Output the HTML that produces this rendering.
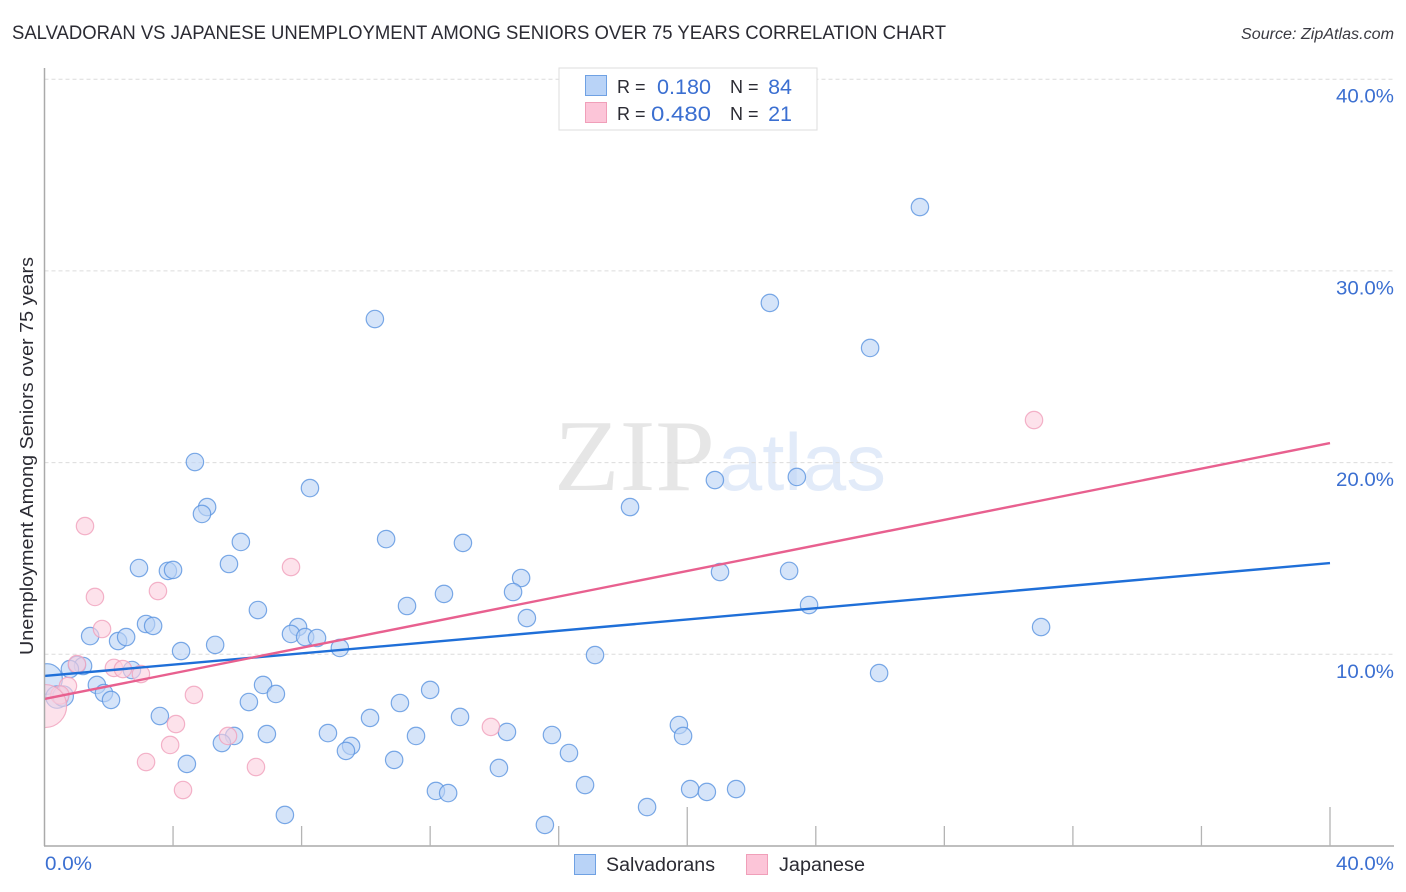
<!DOCTYPE html>
<html lang="en">
<head>
<meta charset="utf-8">
<title>Salvadoran vs Japanese Unemployment Correlation Chart</title>
<style>
html,body{margin:0;padding:0;background:#fff;width:1406px;height:892px;overflow:hidden}
svg{display:block;font-family:"Liberation Sans",sans-serif}
</style>
</head>
<body>
<svg id="chart" xmlns="http://www.w3.org/2000/svg" width="1406" height="892" viewBox="0 0 1406 892">
  <defs>
    <clipPath id="plot-clip"><rect x="44.5" y="60" width="1350" height="786"></rect></clipPath>
  </defs>
  <text x="12" y="39" font-size="19" fill="#2b2b33" textLength="934" lengthAdjust="spacingAndGlyphs">SALVADORAN VS JAPANESE UNEMPLOYMENT AMONG SENIORS OVER 75 YEARS CORRELATION CHART</text>
  <text x="1394" y="39" font-size="15.5" font-style="italic" fill="#3a3a42" text-anchor="end" textLength="153" lengthAdjust="spacingAndGlyphs">Source: ZipAtlas.com</text>

  <g>
    <text x="554" y="490" font-family="'Liberation Serif',serif" font-size="102" fill="#e6e6e6" textLength="161" lengthAdjust="spacingAndGlyphs">ZIP</text>
    <text x="718" y="490" font-family="'Liberation Sans',sans-serif" font-size="81" fill="#e2ebf9" textLength="168" lengthAdjust="spacingAndGlyphs">atlas</text>
  </g>

  <g id="grid"></g>
  <g id="pointsBlue" clip-path="url(#plot-clip)"></g>
  <g id="pointsPink" clip-path="url(#plot-clip)"></g>
  <g id="trends"></g>

  <g id="axes">
    <line x1="44.5" y1="68" x2="44.5" y2="846" stroke="#aaaaaa" stroke-width="1.5"></line>
    <line x1="44" y1="846" x2="1394" y2="846" stroke="#aaaaaa" stroke-width="1.5"></line>
  </g>
  <g id="xTicks"></g>
  <g id="yLabels"></g>
  <text x="45" y="870" font-size="19.5" fill="#3b6fd1" textLength="47" lengthAdjust="spacingAndGlyphs">0.0%</text>
  <text x="1394" y="870" font-size="19.5" fill="#3b6fd1" text-anchor="end" textLength="58" lengthAdjust="spacingAndGlyphs">40.0%</text>
  <text transform="translate(33,655) rotate(-90)" x="0" y="0" font-size="18.5" fill="#2b2b33" textLength="398" lengthAdjust="spacingAndGlyphs">Unemployment Among Seniors over 75 years</text>

  <g>
    <rect x="559" y="68" width="258" height="62" fill="#ffffff" stroke="#dddddd" stroke-width="1"></rect>
    <rect x="585.5" y="75.5" width="21" height="20" fill="#b9d3f7" stroke="#6fa1e3" stroke-width="1"></rect>
    <rect x="585.5" y="102.5" width="21" height="20" fill="#fcc5d8" stroke="#f09fb9" stroke-width="1"></rect>
    <text x="617" y="93" font-size="18" fill="#2b2b33">R =</text>
    <text x="711" y="94" font-size="21.5" fill="#3b6fd1" text-anchor="end" textLength="54" lengthAdjust="spacingAndGlyphs">0.180</text>
    <text x="730" y="93" font-size="18" fill="#2b2b33">N =</text>
    <text x="792" y="94" font-size="21.5" fill="#3b6fd1" text-anchor="end">84</text>
    <text x="617" y="120" font-size="18" fill="#2b2b33">R =</text>
    <text x="711" y="121" font-size="21.5" fill="#3b6fd1" text-anchor="end" textLength="60" lengthAdjust="spacingAndGlyphs">0.480</text>
    <text x="730" y="120" font-size="18" fill="#2b2b33">N =</text>
    <text x="792" y="121" font-size="21.5" fill="#3b6fd1" text-anchor="end">21</text>
  </g>

  <g>
    <rect x="574.5" y="854.5" width="21" height="20" fill="#b9d3f7" stroke="#6fa1e3" stroke-width="1"></rect>
    <text x="606" y="871" font-size="19" fill="#2b2b33" textLength="109" lengthAdjust="spacingAndGlyphs">Salvadorans</text>
    <rect x="746.5" y="854.5" width="21" height="20" fill="#fcc5d8" stroke="#f09fb9" stroke-width="1"></rect>
    <text x="779" y="871" font-size="19" fill="#2b2b33" textLength="86" lengthAdjust="spacingAndGlyphs">Japanese</text>
  </g>
</svg>
<script>
const salvadoranX = [27.24,22.57,25.69,10.28,4.68,8.26,5.06,4.90,20.86,23.41,18.22,6.11,10.63,13.02,2.94,3.84,4.00,5.74,21.02,23.17,14.83,14.58,12.43,11.28,6.64,23.79,15.01,3.16,3.38,7.89,7.67,8.11,8.48,31.01,1.42,2.29,2.54,5.31,4.25,9.19,17.13,25.97,1.01,1.20,0.79,2.72,0.08,1.63,1.85,2.07,6.80,7.20,6.36,12.00,11.06,3.59,10.13,12.93,19.74,19.87,8.82,6.92,5.90,5.52,11.56,14.39,15.79,9.54,9.38,16.32,10.88,4.43,14.14,16.82,12.18,12.56,20.09,20.61,21.52,18.75,7.48,15.57,0.39,0.58];
const salvadoranY = [33.33,28.33,25.98,27.49,20.03,18.67,17.68,17.32,19.09,19.25,17.68,15.86,16.01,15.81,14.50,14.35,14.40,14.71,14.29,14.35,13.98,13.25,13.15,12.52,12.31,12.57,11.89,11.58,11.48,11.42,11.06,10.90,10.85,11.42,10.95,10.69,10.90,10.49,10.17,10.33,9.96,9.02,9.44,9.39,9.23,9.18,8.71,8.40,7.98,7.62,8.40,7.93,7.51,8.14,7.46,6.78,6.68,6.73,6.31,5.74,5.89,5.84,5.74,5.37,5.74,5.95,5.79,5.22,4.96,4.85,4.49,4.28,4.07,3.18,2.87,2.76,2.97,2.82,2.97,2.03,1.62,1.10,7.77,7.82];
const salvadoranWeight = [1,1,1,1,1,1,1,1,1,1,1,1,1,1,1,1,1,1,1,1,1,1,1,1,1,1,1,1,1,1,1,1,1,1,1,1,1,1,1,1,1,1,1,1,1,1,3.1,1,1,1,1,1,1,1,1,1,1,1,1,1,1,1,1,1,1,1,1,1,1,1,1,1,1,1,1,1,1,1,1,1,1,1,1.67,1.4];
const japaneseX = [30.79,1.26,7.67,3.53,1.57,1.79,1.01,2.16,2.44,3.00,0.73,4.65,4.09,13.89,5.71,3.91,3.16,6.58,4.31,0.48,0.02];
const japaneseY = [22.22,16.69,14.55,13.30,12.99,11.32,9.49,9.29,9.23,8.97,8.35,7.88,6.36,6.21,5.74,5.27,4.38,4.12,2.92,7.88,7.30];
const japaneseWeight = [1,1,1,1,1,1,1,1,1,1,1,1,1,1,1,1,1,1,1,1.1,6.1];
const trendX = [0,40];
const salvadoranTrend = [8.87,14.76];
const japaneseTrend = [7.67,21.02];
const yTickValues = [10,20,30,40];
const yTickLabels = ["10.0%","20.0%","30.0%","40.0%"];
const xTickValues = [0,4,8,12,16,20,24,28,32,36,40];
const xMajorTicks = [20,40];

const NS = 'http://www.w3.org/2000/svg';
function xScale(v){ return 44.5 + v * (1285.5 / 40); }
function yScale(v){ return 846 - v * (766.8 / 40); }
function bubbleRadius(w){ return 8.7 * Math.sqrt(w); }

const gridGroup = document.getElementById('grid');
const labelGroup = document.getElementById('yLabels');
yTickValues.forEach(function(v, i){
  const gl = document.createElementNS(NS, 'line');
  
  
  gl.setAttribute('x1', 44.5);
  gl.setAttribute('x2', 1394);
  gl.setAttribute('y1', yScale(v));
  gl.setAttribute('y2', yScale(v));
  gl.setAttribute('stroke', '#dcdcdc');
  gl.setAttribute('stroke-width', '1');
  gl.setAttribute('stroke-dasharray', '4 3');
  gridGroup.appendChild(gl);
  const t = document.createElementNS(NS, 'text');
  
  
  t.setAttribute('x', 1394);
  t.setAttribute('y', yScale(v) + 23.5);
  t.setAttribute('text-anchor', 'end');
  t.setAttribute('font-size', '19.5');
  t.setAttribute('fill', '#3b6fd1');
  t.setAttribute('textLength', '58');
  t.setAttribute('lengthAdjust', 'spacingAndGlyphs');
  t.textContent = yTickLabels[i];
  labelGroup.appendChild(t);
});

const tickGroup = document.getElementById('xTicks');
xTickValues.forEach(function(v){
  if (v === 0) return;
  const tk = document.createElementNS(NS, 'line');
  
  
  tk.setAttribute('x1', xScale(v));
  tk.setAttribute('x2', xScale(v));
  tk.setAttribute('y1', xMajorTicks.indexOf(v) >= 0 ? 807 : 826);
  tk.setAttribute('y2', 846);
  tk.setAttribute('stroke', '#b4b4b4');
  tk.setAttribute('stroke-width', '1.3');
  tickGroup.appendChild(tk);
});

function drawPoints(groupId, xs, ys, ws, fill, stroke){
  const g = document.getElementById(groupId);
  xs.forEach(function(x, i){
    const c = document.createElementNS(NS, 'circle');
    
    
    c.setAttribute('cx', xScale(x));
    c.setAttribute('cy', yScale(ys[i]));
    c.setAttribute('r', bubbleRadius(ws[i]));
    c.setAttribute('fill', fill);
    c.setAttribute('fill-opacity', '0.62');
    c.setAttribute('stroke', stroke);
    c.setAttribute('stroke-opacity', '0.8');
    c.setAttribute('stroke-width', '1.2');
    g.appendChild(c);
  });
}
drawPoints('pointsBlue', salvadoranX, salvadoranY, salvadoranWeight, '#bcd4f6', '#5a93e0');
drawPoints('pointsPink', japaneseX, japaneseY, japaneseWeight, '#fbd0de', '#f0a0bb');

function drawTrend(name, vals, color){
  const l = document.createElementNS(NS, 'line');
  
  
  l.setAttribute('x1', xScale(trendX[0]));
  l.setAttribute('y1', yScale(vals[0]));
  l.setAttribute('x2', xScale(trendX[1]));
  l.setAttribute('y2', yScale(vals[1]));
  l.setAttribute('stroke', color);
  l.setAttribute('stroke-width', '2.4');
  document.getElementById('trends').appendChild(l);
}
drawTrend('salvadorans-trend-line', salvadoranTrend, '#1f6fd8');
drawTrend('japanese-trend-line', japaneseTrend, '#e8608f');
</script>
</body>
</html>
